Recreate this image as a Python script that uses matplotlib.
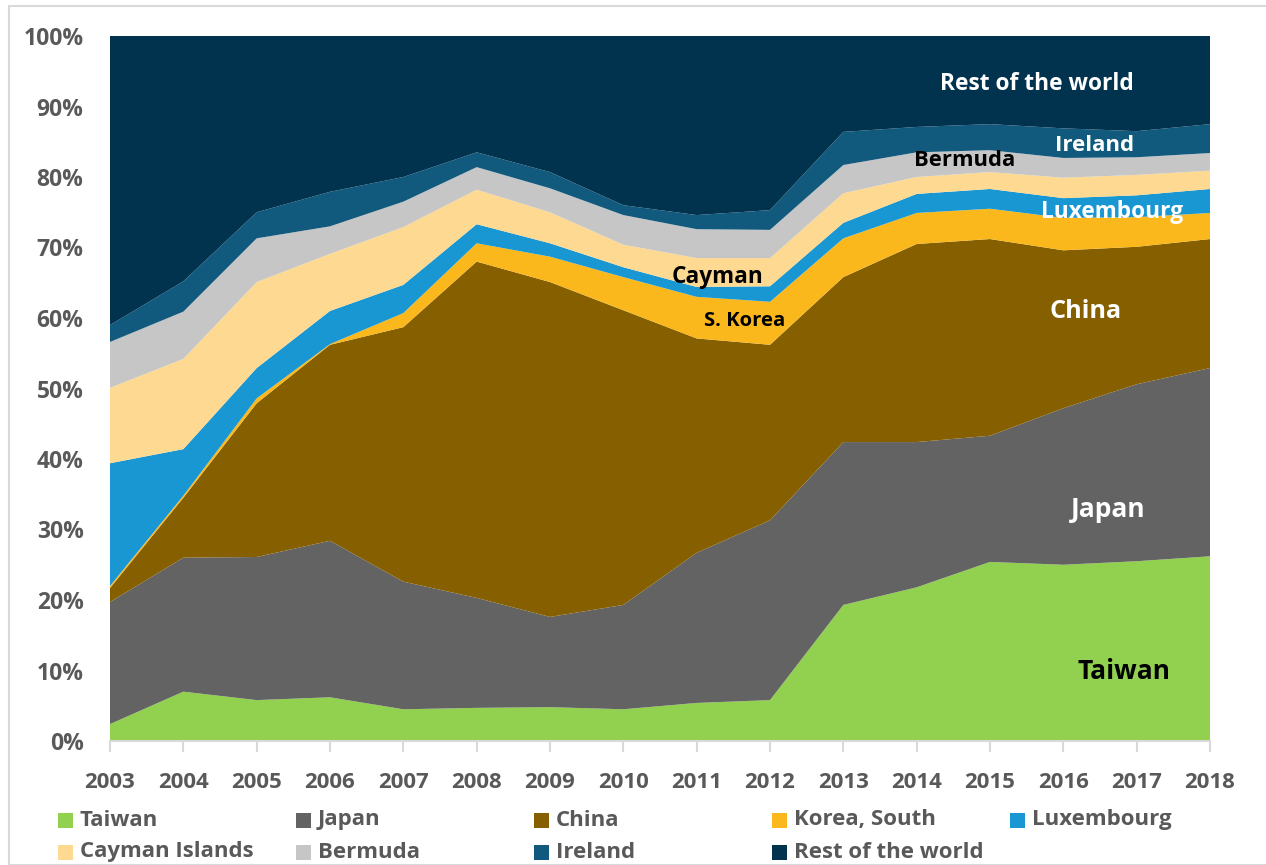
import matplotlib
matplotlib.use("Agg")
import matplotlib.pyplot as plt
from matplotlib.patches import Rectangle
from matplotlib.ticker import FuncFormatter

plt.rcParams['font.family'] = ['Open Sans', 'DejaVu Sans']
plt.rcParams['font.weight'] = 'bold'

years = list(range(2003, 2019))
taiwan = [2.4, 7.0, 5.8, 6.2, 4.5, 4.7, 4.8, 4.5, 5.4, 5.8, 19.3, 21.8, 25.4, 25.0, 25.5, 26.2]
japan = [17.3, 19.0, 20.3, 22.2, 18.1, 15.6, 12.8, 14.8, 21.3, 25.5, 23.1, 20.6, 17.9, 22.2, 25.1, 26.7]
china = [2.0, 8.5, 21.8, 27.8, 36.1, 47.7, 47.5, 41.8, 30.4, 24.9, 23.4, 28.1, 27.9, 22.4, 19.5, 18.3]
korea = [0.3, 0.3, 0.7, 0.1, 2.0, 2.6, 3.6, 4.7, 5.9, 6.1, 5.5, 4.4, 4.3, 4.6, 4.2, 3.7]
luxembourg = [17.4, 6.6, 4.3, 4.7, 4.0, 2.7, 1.9, 1.4, 1.4, 2.2, 2.2, 2.7, 2.8, 2.8, 3.1, 3.4]
cayman = [10.7, 12.8, 12.2, 8.1, 8.2, 4.9, 4.4, 3.2, 4.1, 4.0, 4.2, 2.4, 2.4, 2.9, 2.9, 2.6]
bermuda = [6.5, 6.7, 6.2, 3.9, 3.6, 3.2, 3.4, 4.2, 4.1, 4.0, 4.0, 3.5, 3.1, 2.8, 2.5, 2.5]
ireland = [2.4, 4.3, 3.7, 4.9, 3.5, 2.1, 2.3, 1.4, 2.0, 2.8, 4.7, 3.6, 3.7, 4.2, 3.7, 4.1]
rest = [41.0, 34.8, 25.0, 22.1, 20.0, 16.5, 19.3, 24.0, 25.4, 24.7, 13.6, 12.9, 12.5, 13.1, 13.5, 12.5]

series_names = ["Taiwan", "Japan", "China", "Korea, South", "Luxembourg",
                "Cayman Islands", "Bermuda", "Ireland", "Rest of the world"]
series = [taiwan, japan, china, korea, luxembourg, cayman, bermuda, ireland, rest]
colors = ["#92D050", "#636363", "#866000", "#FBB81C", "#1897D3",
          "#FDD992", "#C6C6C6", "#115A7D", "#01334F"]

# in-chart labels
labels = ["Rest of the world", "Ireland", "Bermuda", "Luxembourg", "Cayman",
          "S. Korea", "China", "Japan", "Taiwan"]
label_x = [2015.64, 2016.42, 2014.66, 2016.66, 2011.28, 2011.65, 2016.3, 2016.61, 2016.83]
label_y = [93.2, 84.4, 82.3, 75.0, 65.8, 59.6, 60.9, 32.9, 9.9]
label_colors = ["white", "white", "black", "white", "black", "black", "white", "white", "black"]
label_sizes = [16.4, 16, 15.8, 16.3, 16.3, 14.6, 18.2, 19, 19]

W, H = 1266, 865
fig = plt.figure(figsize=(W / 100, H / 100), dpi=100)
fig.patches.append(Rectangle((9 / W, 0), 1.2, 1 - 6 / H, transform=fig.transFigure,
                             fill=False, edgecolor="#D9D9D9", linewidth=1.5))

ax = fig.add_axes([110 / W, 1 - 741 / H, 1100 / W, 705 / H])
total = [sum(v) for v in zip(*series)]
norm = [[100 * v / t for v, t in zip(s, total)] for s in series]
ax.stackplot(years, *norm, colors=colors, linewidth=0)

ax.set_xlim(2003, 2018)
ax.set_ylim(0, 100)
ax.set_xticks(years)
ax.set_yticks(range(0, 101, 10))
ax.yaxis.set_major_formatter(FuncFormatter(lambda v, p: f"{int(v)}%"))
for s in ["top", "right", "left"]:
    ax.spines[s].set_visible(False)
ax.spines["bottom"].set_color("#D9D9D9")
ax.spines["bottom"].set_linewidth(1.5)
ax.tick_params(axis="x", direction="out", length=8, width=1.5, color="#D9D9D9",
               labelsize=16, labelcolor="#595959", pad=14)
ax.tick_params(axis="y", length=0, labelsize=16.5, labelcolor="#595959", pad=19)
for lab in ax.get_xticklabels() + ax.get_yticklabels():
    lab.set_fontweight("bold")

for t, x, y, c, fs in zip(labels, label_x, label_y, label_colors, label_sizes):
    ax.text(x, y, t, color=c, fontsize=fs, fontweight="bold", ha="center", va="center")

# legend (Excel style: equal column spacing)
col_step = 238
x0 = 58
row_y = [820, 852]
for i, (name, col) in enumerate(zip(series_names, colors)):
    r, c = divmod(i, 5)
    x = x0 + c * col_step
    y = row_y[r]
    fig.patches.append(Rectangle((x / W, 1 - (y + 7.5) / H), 15 / W, 15 / H,
                                 transform=fig.transFigure, facecolor=col, edgecolor="none"))
    fig.text((x + 22) / W, 1 - y / H, name, fontsize=16, fontweight="bold",
             color="#595959", ha="left", va="center")

fig.savefig("out.png", dpi=100)
